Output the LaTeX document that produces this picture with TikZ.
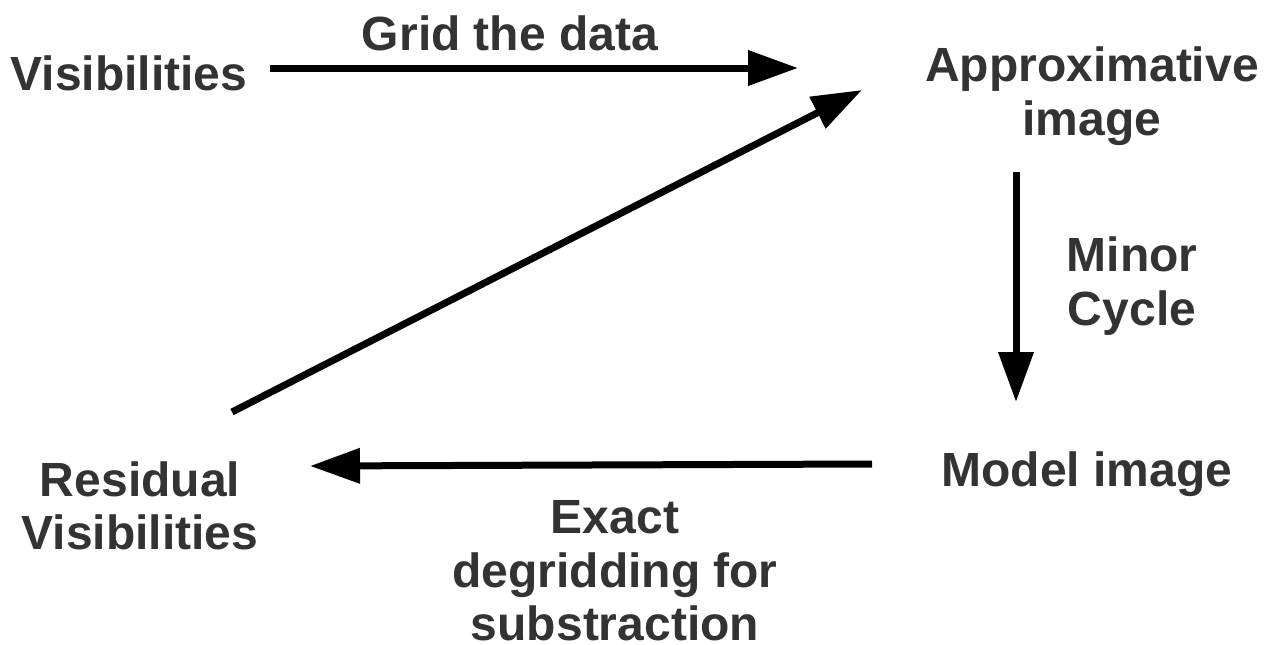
\documentclass[tikz,border=0pt]{standalone}
\usepackage{fontspec}
\setmainfont{Liberation Sans}
\usetikzlibrary{arrows.meta}
\definecolor{labelgray}{HTML}{333333}
\begin{document}
\begin{tikzpicture}[x=1pt,y=-1pt,
  lbl/.style={text=labelgray,font=\fontsize{48}{53.5}\selectfont\bfseries,align=center,inner sep=0pt},
  flow/.style={line width=7pt,-{Triangle[length=50pt,width=34pt]}}]
  \useasboundingbox (0,0) rectangle (1264,645);

  % stages of the imaging loop
  \node[lbl] (vis)    at (129,73)  {Visibilities};
  \node[lbl] (approx) at (1092,96) {Approximative\\image};
  \node[lbl] (model)  at (1087,474) {Model image};
  \node[lbl] (resid)  at (140,506) {Residual\\Visibilities};

  % step labels
  \node[lbl] (grid)   at (510,33)  {Grid the data};
  \node[lbl] (minor)  at (1132,286) {Minor\\Cycle};
  \node[lbl] (degrid) at (615,571) {Exact\\degridding for\\substraction};

  % arrow end points
  \coordinate (g0) at (270,68);
  \coordinate (g1) at (798,68);
  \coordinate (m0) at (1016,172);
  \coordinate (m1) at (1016,402);
  \coordinate (d0) at (872,464);
  \coordinate (d1) at (310,466);
  \coordinate (r0) at (232,412);
  \coordinate (r1) at (862,90);

  \draw[flow] (g0) -- (g1);
  \draw[flow] (m0) -- (m1);
  \draw[flow] (d0) -- (d1);
  \draw[flow] (r0) -- (r1);
\end{tikzpicture}
\end{document}
